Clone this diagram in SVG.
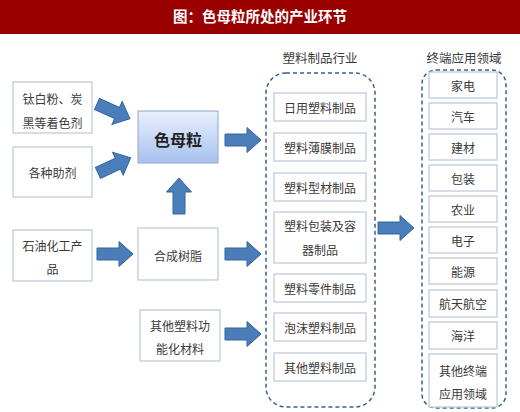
<svg xmlns="http://www.w3.org/2000/svg" width="520" height="412" viewBox="0 0 520 412">
<style>
.t{font-family:"Noto Sans CJK SC","Liberation Sans",sans-serif;font-size:12px;fill:#3a3a3a;text-anchor:middle;dominant-baseline:central}
.box{fill:#fff;stroke:#b9c6d8;stroke-width:1.2}
.cont{fill:none;stroke:#3b5f8c;stroke-width:1.5;stroke-dasharray:4 3}
.arr{fill:#4a7ebb;stroke:#36649a;stroke-width:1}
</style>
<defs>
<path id="a" d="M0,-6 H22 V-12.5 L36,0 L22,12.5 V6 H0 Z"/>
<linearGradient id="g" x1="0" y1="0" x2="0" y2="1">
<stop offset="0" stop-color="#eaf0fd"/>
<stop offset="1" stop-color="#a7c1ee"/>
</linearGradient>
</defs>
<rect x="0" y="0" width="520" height="34" fill="#990000"/>
<text x="260" y="15" class="t" style="fill:#fff;font-size:14.5px;font-weight:bold">图：色母粒所处的产业环节</text>

<g id="n1"><rect class="box" x="13" y="82" width="79" height="51"/><text class="t" x="52.5" y="98">钛白粉、炭</text><text class="t" x="52.5" y="122">黑等着色剂</text></g>
<g id="n2"><rect class="box" x="13" y="147" width="79" height="50"/><text class="t" x="52.5" y="172">各种助剂</text></g>
<g id="n3"><rect class="box" x="13" y="230" width="79" height="51"/><text class="t" x="52.5" y="245">石油化工产</text><text class="t" x="52.5" y="268">品</text></g>
<g id="n4"><rect x="138" y="111" width="80" height="52" fill="url(#g)" stroke="#9fb3d6" stroke-width="1.2"/><text class="t" x="178" y="139" style="font-size:16px;font-weight:bold;fill:#222">色母粒</text></g>
<g id="n5"><rect class="box" x="138" y="228" width="80" height="52"/><text class="t" x="178" y="255">合成树脂</text></g>
<g id="n6"><rect class="box" x="140" y="310" width="80" height="51"/><text class="t" x="180" y="325">其他塑料功</text><text class="t" x="180" y="348">能化材料</text></g>

<g id="plastics">
<text class="t" x="320" y="57" style="font-size:12.5px">塑料制品行业</text>
<rect class="cont" x="266" y="73" width="109" height="334" rx="20"/>
<rect class="box" x="274" y="93" width="92" height="28"/><text class="t" x="320" y="107">日用塑料制品</text>
<rect class="box" x="274" y="133" width="92" height="28"/><text class="t" x="320" y="147">塑料薄膜制品</text>
<rect class="box" x="274" y="173" width="92" height="28"/><text class="t" x="320" y="187">塑料型材制品</text>
<rect class="box" x="274" y="212" width="92" height="51"/><text class="t" x="320" y="225">塑料包装及容</text><text class="t" x="320" y="249">器制品</text>
<rect class="box" x="274" y="274" width="92" height="28"/><text class="t" x="320" y="288">塑料零件制品</text>
<rect class="box" x="274" y="313" width="92" height="28"/><text class="t" x="320" y="327">泡沫塑料制品</text>
<rect class="box" x="274" y="353" width="92" height="28"/><text class="t" x="320" y="367">其他塑料制品</text>
</g>

<g id="end">
<text class="t" x="464" y="57" style="font-size:12.5px">终端应用领域</text>
<rect class="cont" x="422" y="70" width="84" height="338" rx="14"/>
<rect class="box" x="429" y="72" width="68" height="26"/><text class="t" x="463" y="85">家电</text>
<rect class="box" x="429" y="103" width="68" height="26"/><text class="t" x="463" y="116">汽车</text>
<rect class="box" x="429" y="134" width="68" height="26"/><text class="t" x="463" y="147">建材</text>
<rect class="box" x="429" y="165" width="68" height="26"/><text class="t" x="463" y="178">包装</text>
<rect class="box" x="429" y="196" width="68" height="26"/><text class="t" x="463" y="209">农业</text>
<rect class="box" x="429" y="227" width="68" height="26"/><text class="t" x="463" y="240">电子</text>
<rect class="box" x="429" y="258" width="68" height="26"/><text class="t" x="463" y="271">能源</text>
<rect class="box" x="429" y="290" width="68" height="27"/><text class="t" x="463" y="303">航天航空</text>
<rect class="box" x="429" y="322" width="68" height="27"/><text class="t" x="463" y="335">海洋</text>
<rect class="box" x="429" y="354" width="68" height="53"/><text class="t" x="463" y="370">其他终端</text><text class="t" x="463" y="393">应用领域</text>
</g>

<g id="connectors">
<use href="#a" class="arr" transform="translate(97,104) rotate(24)"/>
<use href="#a" class="arr" transform="translate(98,173) rotate(-25)"/>
<use href="#a" class="arr" transform="translate(179,214) rotate(-90)"/>
<use href="#a" class="arr" transform="translate(225,140)"/>
<use href="#a" class="arr" transform="translate(97,254)"/>
<use href="#a" class="arr" transform="translate(225,254)"/>
<use href="#a" class="arr" transform="translate(225,334)"/>
<use href="#a" class="arr" transform="translate(378,228)"/>
</g>
</svg>
